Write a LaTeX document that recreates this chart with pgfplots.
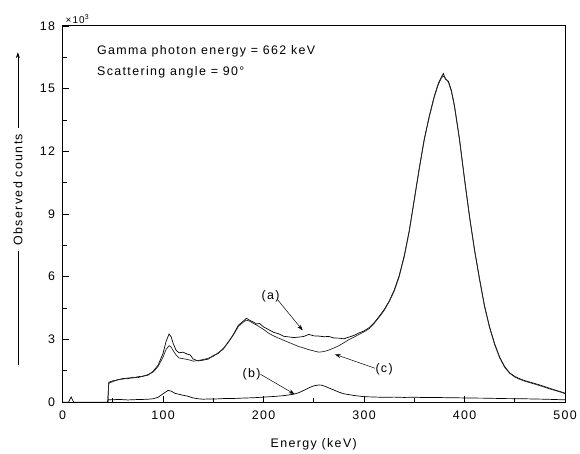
\documentclass[border=0pt]{standalone}
\usepackage{pgfplots}
\pgfplotsset{compat=1.18}
\usepackage{fontspec}
\setmainfont{Liberation Sans}[LetterSpace=11]
\usetikzlibrary{arrows.meta}

% spectra: energy (keV) vs counts
\pgfplotstableread{
E C
45 0
46 950
50 1020
55 1060
60 1130
65 1120
70 1190
75 1170
80 1250
85 1290
90 1470
95 1760
100 2330
103 2900
106 3260
108 3130
110 2820
113 2480
116 2360
120 2390
124 2300
127 2260
130 2060
135 1970
140 2010
145 2060
150 2230
155 2330
160 2570
165 2860
170 3240
175 3680
180 3880
183 4010
186 3920
190 3830
193 3740
196 3760
200 3600
205 3470
210 3340
215 3270
220 3150
225 3120
230 3090
235 3110
240 3140
245 3240
250 3170
255 3160
260 3130
265 3140
270 3070
275 3060
280 3030
285 3110
290 3190
295 3310
300 3400
305 3560
310 3790
315 4100
320 4420
325 4830
330 5350
335 6050
340 7000
345 8200
350 9700
355 11200
360 12600
365 13700
370 14650
374 15250
377 15550
379 15720
381 15450
384 15350
387 14900
390 14200
395 12600
400 10700
405 8900
410 7300
415 5900
420 4600
425 3600
430 2800
435 2150
440 1700
445 1400
450 1230
455 1120
460 1030
465 960
470 890
475 820
480 740
485 660
490 580
495 510
500 430
}\specA

\pgfplotstableread{
E C
45 0
46 900
50 980
55 1080
60 1100
65 1160
70 1150
75 1220
80 1230
85 1320
90 1430
95 1700
100 2150
103 2520
106 2700
108 2640
110 2470
113 2250
116 2110
120 2080
124 2040
127 2010
130 1960
135 1990
140 2040
145 2100
150 2190
155 2370
160 2530
165 2890
170 3210
175 3620
180 3830
183 3920
186 3880
190 3760
193 3690
196 3600
200 3480
205 3300
210 3170
215 3060
220 2960
225 2860
230 2760
235 2660
240 2590
245 2510
250 2450
255 2390
260 2420
265 2490
270 2590
275 2700
280 2840
285 2990
290 3110
295 3240
300 3360
305 3510
310 3760
315 4060
320 4380
325 4800
330 5300
335 6000
340 6950
345 8150
350 9650
355 11150
360 12550
365 13650
370 14600
374 15200
377 15500
379 15600
381 15500
384 15300
387 14850
390 14150
395 12550
400 10650
405 8850
410 7250
415 5850
420 4550
425 3550
430 2750
435 2120
440 1660
445 1380
450 1200
455 1090
460 1000
465 930
470 860
475 790
480 710
485 630
490 560
495 490
500 410
}\specC

\pgfplotstableread{
E C
0 0
6 0
8.5 250
11 0
45 0
45.5 120
50 110
55 130
60 120
65 105
70 115
75 125
80 130
85 140
90 160
95 230
100 400
105 560
108 530
112 420
118 350
125 280
130 200
135 160
140 140
145 150
150 145
160 170
170 175
180 195
190 210
200 240
210 270
220 310
230 380
235 450
240 560
245 680
250 780
255 820
258 810
262 740
268 620
275 480
280 400
290 320
300 260
310 245
320 230
330 240
340 225
350 235
360 220
370 225
380 215
390 210
400 200
410 195
420 190
430 180
440 170
450 165
460 160
470 150
480 140
490 125
500 110
}\specB

\begin{document}
\begin{tikzpicture}[font=\fontsize{12.5}{15}\selectfont]
\begin{axis}[
name=ax,
scale only axis,
width=506pt,height=379pt,
clip=false,
xmin=0,xmax=500,ymin=0,ymax=18000,
xtick={0,100,...,500},minor x tick num=1,
ytick={0,3000,...,18000},yticklabels={0,3,6,9,12,15,18},minor y tick num=1,
scaled y ticks=false,
tick align=inside,xtick pos=bottom,ytick pos=left,
major tick length=6pt,minor tick length=4pt,
tick style={black,line width=0.6pt},
axis line style={line width=0.8pt},
/pgf/number format/assume math mode=true,
xticklabel style={yshift=-5pt},
yticklabel style={xshift=-4pt},
xlabel={Energy (keV)},
xlabel style={yshift=-12pt},
]
\addplot[black,line width=0.7pt] table[x=E,y=C] {\specA};
\addplot[black!85,line width=0.7pt] table[x=E,y=C] {\specC};
\addplot[black,line width=0.7pt] table[x=E,y=C] {\specB};

\node[anchor=west] at (axis cs:31,16760) {Gamma photon energy = 662 keV};
\node[anchor=west] at (axis cs:31,15760) {Scattering angle = 90°};

\node at (axis cs:207,5050) {(a)};
\draw[-{Stealth[length=6pt,width=4pt]},line width=0.5pt] (axis cs:214,4900) -- (axis cs:239,3430);
\node at (axis cs:188,1330) {(b)};
\draw[-{Stealth[length=6pt,width=4pt]},line width=0.5pt] (axis cs:197,1330) -- (axis cs:231,380);
\node at (axis cs:320,1570) {(c)};
\draw[-{Stealth[length=6pt,width=4pt]},line width=0.5pt] (axis cs:311,1620) -- (axis cs:271,2290);

\node[anchor=south west,font=\fontsize{10}{12}\selectfont,inner sep=1pt] at ([xshift=2pt,yshift=1pt]rel axis cs:0,1) {×10\textsuperscript{3}};

\draw[-{Stealth[length=6pt,width=4pt]},line width=0.6pt] ([xshift=-45pt]rel axis cs:0,0.1) -- node[pos=0.56,rotate=90,fill=white,inner sep=6pt] {Observed counts} ([xshift=-45pt]rel axis cs:0,0.93);
\end{axis}
\path ([xshift=-63pt,yshift=-48pt]ax.south west) rectangle ([xshift=11pt,yshift=26pt]ax.north east);
\end{tikzpicture}
\end{document}
